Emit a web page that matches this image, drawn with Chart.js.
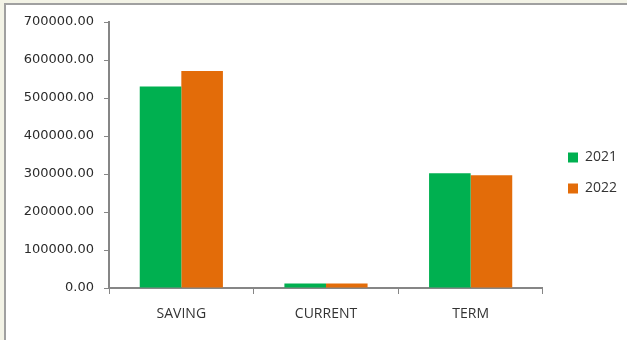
<!DOCTYPE html>
<html>
<head>
<meta charset="utf-8">
<script src="https://cdn.jsdelivr.net/npm/chart.js@4/dist/chart.umd.min.js"></script>
<style>
    html, body { margin: 0; padding: 0; }
    body { width: 627px; height: 340px; background: #f3f3e6; position: relative; overflow: hidden; }
    #paneel { position: absolute; left: 4px; top: 3px; right: 0; bottom: 0; background: #fff;
              border-left: 2px solid #a0a0a0; border-top: 2px solid #a0a0a0; }
    #wrap { position: absolute; left: 0; top: 0; width: 627px; height: 340px; }
</style>
</head>
<body>
<div id="paneel"></div>
<div id="wrap"><canvas id="staafGrafiek"></canvas></div>
<script>
const categorieen = ["SAVING", "CURRENT", "TERM"];
const jaren = ["2021", "2022"];
const waarden2021 = [530000, 12000, 302000];
const waarden2022 = [571000, 12000, 297000];
const kleuren = ["#00b050", "#e36c09"];

// legenda een stukje verschuiven, zoals in het origineel
const legendaVerschuiving = {
    id: "legendaVerschuiving",
    afterLayout(chart) {
        const lg = chart.legend;
        if (!lg) return;
        lg.left += 8; lg.right += 8;
        lg.top -= 8; lg.bottom -= 8;
    }
};

function tekenStaafGrafiek() {
    const canvas = document.getElementById("staafGrafiek");
    const reeksen = [waarden2021, waarden2022];

    const datasets = jaren.map((jaar, i) => ({
        label: jaar,
        data: reeksen[i],
        backgroundColor: kleuren[i],
        borderWidth: 0,
        categoryPercentage: 0.575,
        barPercentage: 1.0,
    }));

    new Chart(canvas, {
        type: "bar",
        data: {
            labels: categorieen,
            datasets: datasets,
        },
        plugins: [legendaVerschuiving],
        options: {
            responsive: true,
            maintainAspectRatio: false,
            animation: false,
            layout: {
                padding: { top: 22, right: 8, bottom: 0, left: 0 },
            },
            plugins: {
                legend: {
                    display: true,
                    position: "right",
                    labels: {
                        boxWidth: 10,
                        boxHeight: 10,
                        padding: 17,
                        color: "#333",
                        font: { family: "'Open Sans'", size: 14 },
                    },
                },
                tooltip: { enabled: false },
            },
            scales: {
                y: {
                    min: 0,
                    max: 700000,
                    afterFit: s => { s.width = 109; },
                    border: { color: "#868686", width: 2 },
                    grid: { drawOnChartArea: false, tickLength: 5, color: "#868686", tickWidth: 1 },
                    ticks: {
                        stepSize: 100000,
                        padding: 10,
                        color: "#2b2b2b",
                        font: { family: "'DejaVu Sans'", size: 13 },
                        callback: v => v.toFixed(2),
                    },
                },
                x: {
                    afterFit: s => { s.height = 52; },
                    border: { color: "#868686", width: 2 },
                    grid: { drawOnChartArea: false, offset: true, tickLength: 6, color: "#868686" },
                    ticks: {
                        padding: 12,
                        color: "#333",
                        font: { family: "'Open Sans'", size: 14 },
                    },
                },
            },
        },
    });
}

window.addEventListener("load", tekenStaafGrafiek);
</script>
</body>
</html>
